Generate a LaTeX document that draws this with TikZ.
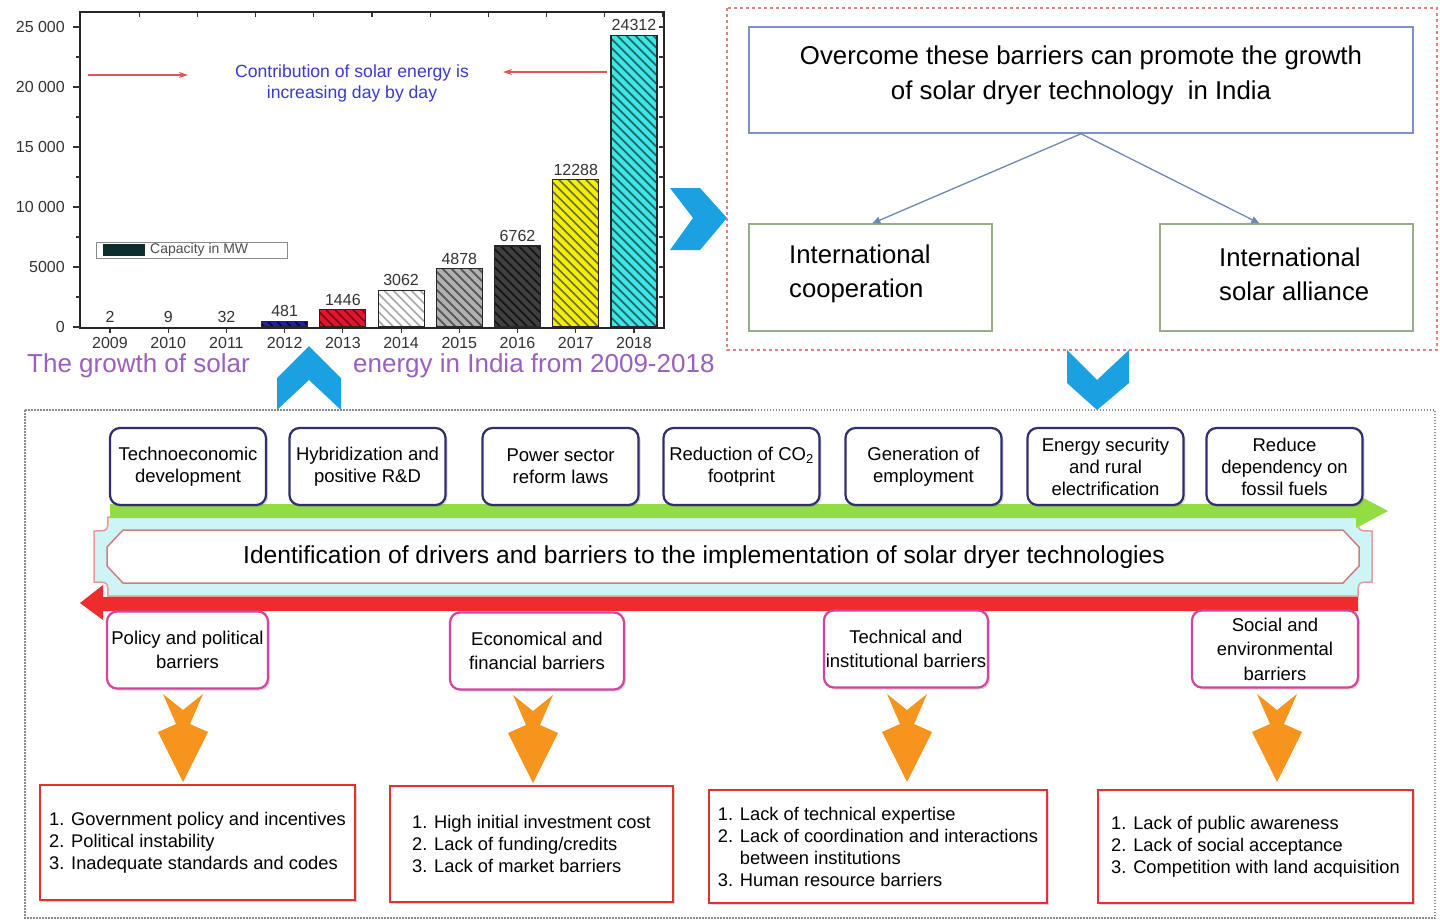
\documentclass[tikz,border=0pt]{standalone}
\usepackage{fontspec}
\setmainfont{Liberation Sans}
\usetikzlibrary{shadows,arrows.meta,calc}
\definecolor{chev}{HTML}{1BA1E2}
\definecolor{navyb}{HTML}{2E2E70}
\definecolor{magb}{HTML}{D2459E}
\definecolor{redb}{HTML}{E4312F}
\definecolor{orangeA}{HTML}{F7941D}
\definecolor{greenA}{HTML}{92DD44}
\definecolor{redA}{HTML}{EF2B2B}
\definecolor{cyanband}{HTML}{CFF4F6}
\definecolor{bandline}{HTML}{E79A9A}
\definecolor{innerline}{HTML}{CF7E7E}
\definecolor{capcol}{HTML}{9B5FC0}
\definecolor{annblue}{HTML}{3A3ACB}
\definecolor{topbox}{HTML}{8090C8}
\definecolor{grbox}{HTML}{98AE88}
\definecolor{conn}{HTML}{6E88B8}
\definecolor{chartred}{HTML}{E05555}
\definecolor{b12}{HTML}{2020A0}
\definecolor{b12l}{HTML}{000050}
\definecolor{b13}{HTML}{E01530}
\definecolor{b13l}{HTML}{800010}
\definecolor{b14l}{HTML}{A8A8A8}
\definecolor{b15}{HTML}{B0B0B0}
\definecolor{b15l}{HTML}{555555}
\definecolor{b16}{HTML}{404040}
\definecolor{b16l}{HTML}{151515}
\definecolor{b17}{HTML}{F2F000}
\definecolor{b17l}{HTML}{6A6A3A}
\definecolor{b18}{HTML}{3EE6E6}
\definecolor{b18l}{HTML}{206868}
\definecolor{legc}{HTML}{0E2E2E}
\definecolor{dotgray}{HTML}{8A8A8A}
\definecolor{dashred}{HTML}{E08080}
\begin{document}
\begin{tikzpicture}[x=1pt,y=-1pt,
  every node/.style={inner sep=0pt},
  drv/.style={draw=navyb, line width=2.2pt, rounded corners=10pt, fill=white,
    minimum width=156pt, minimum height=77pt, align=center,
    font=\fontsize{18.5}{22}\selectfont,
    drop shadow={opacity=0.3,shadow xshift=2pt,shadow yshift=-2pt}},
  barr/.style={draw=magb, line width=2.2pt, rounded corners=10pt, fill=white,
    minimum height=77pt, align=center, font=\fontsize{18.5}{24.5}\selectfont,
    drop shadow={opacity=0.3,shadow xshift=2pt,shadow yshift=-2pt}},
  lst/.style={draw=redb, line width=2.6pt, fill=white, align=left,
    font=\fontsize{18.3}{22}\selectfont,
    drop shadow={opacity=0.3,shadow xshift=2pt,shadow yshift=-2pt}},
  gbox/.style={draw=grbox, line width=1.3pt, minimum height=107pt},
  gtext/.style={align=left, font=\fontsize{25.7}{34}\selectfont, anchor=west},
  vlab/.style={font=\fontsize{16}{18}\selectfont, text=black!80},
  ylab/.style={font=\fontsize{16}{18}\selectfont, text=black!80},
  connarrow/.style={draw=conn, line width=1.3pt, -{Triangle[length=8pt,width=7pt]}},
  chartarrow/.style={draw=chartred, line width=1.4pt, -{Stealth[length=9pt,width=6pt]}},
  oarr/.pic={\fill[orangeA] (-20,0) -- (0,16) -- (20,0) -- (7,30) -- (25,38) -- (0,88) -- (-25,38) -- (-7,30) -- cycle;}
]
\useasboundingbox (0,0) rectangle (1440,922);
\fill[white] (0,0) rectangle (1440,922);

% ---------------- chart ----------------
\foreach \i/\v/\ty/\fc/\lc in {0/2/326.98/white/white,1/9/326.89/white/white,2/32/326.6/white/white,3/481/321.2/b12/b12l,4/1446/309.6/b13/b13l,5/3062/290.3/white/b14l,6/4878/268.5/b15/b15l,7/6762/245.9/b16/b16l,8/12288/179.5/b17/b17l,9/24312/35.3/b18/b18l}{
  \pgfmathsetmacro\cx{110+58.22*\i}
  \ifnum\i>2
    \fill[\fc] ({\cx-23},327) rectangle ({\cx+23},\ty);
    \begin{scope}
      \clip ({\cx-23},327) rectangle ({\cx+23},\ty);
      \foreach \t in {-300,-291,...,50}{
        \draw[\lc, line width=1.7pt] ({\cx-23+\t},\ty) -- ++(340,340);
      }
    \end{scope}
    \draw[line width=1.2pt, black!85] ({\cx-23},327) rectangle ({\cx+23},\ty);
  \fi
  \node[vlab] at (\cx,{\ty-10}) {\v};
  \node[ylab] at (\cx,343) {\the\numexpr2009+\i\relax};
  \draw[line width=1.2pt, black!80] (\cx,328) -- (\cx,333);
  \draw[line width=1.2pt, black!80] ({\cx+29.11},12) -- ({\cx+29.11},17);
}
\draw[line width=1.5pt, black!85] (80,12) rectangle (664,328);
\foreach \k/\t in {0/0,1/5000,2/10 000,3/15 000,4/20 000,5/25 000}{
  \draw[line width=1.2pt, black!80] (80,{327-60*\k}) -- (73,{327-60*\k});
  \node[ylab, anchor=east] at (65,{327-60*\k}) {\t};
}
\foreach \k in {0,...,4}{
  \draw[line width=1.2pt, black!80] (80,{297-60*\k}) -- (76,{297-60*\k});
}
\foreach \k in {1,...,10}{
  \draw[line width=1.2pt, black!80] (664,{327-30*\k}) -- (659,{327-30*\k});
}
% legend
\draw[black!45, line width=0.8pt] (96,242) rectangle (287,258);
\fill[legc] (103,244) rectangle (145,256);
\node[anchor=west, font=\fontsize{14}{16}\selectfont, text=black!70] (leg) at (150,250) {Capacity in MW};
% annotation
\node[align=center, font=\fontsize{17.6}{21}\selectfont, text=annblue] (ann) at (352,83) {Contribution of solar energy is\\increasing day by day};
\coordinate (a1s) at (88,75); \coordinate (a1e) at (188,75);
\coordinate (a2s) at (607,72); \coordinate (a2e) at (503,72);
\draw[chartarrow] (a1s) -- (a1e);
\draw[chartarrow] (a2s) -- (a2e);
% caption
\node[anchor=west, font=\fontsize{26}{30}\selectfont, text=capcol] (cap1) at (27,366) {The growth of solar};
\node[anchor=west, font=\fontsize{26}{30}\selectfont, text=capcol] (cap2) at (353,366) {energy in India from 2009-2018};

% ---------------- chevrons ----------------
\fill[chev] (277,410) -- (277,378) -- (309,346) -- (341,378) -- (341,410) -- (309,380) -- cycle;
\fill[chev] (670,188) -- (700,188) -- (727,218) -- (700,250) -- (670,250) -- (693,218) -- cycle;
\fill[chev] (1067,350) -- (1097,380) -- (1129,350) -- (1129,383) -- (1097,410) -- (1067,383) -- cycle;

% ---------------- top right panel ----------------
\draw[dashred, line width=1.2pt, dash pattern=on 3pt off 3pt] (727,8) rectangle (1437,350);
\node[draw=topbox, line width=1.5pt, minimum width=664pt, minimum height=106pt] (ov) at (1081,80) {};
\node[align=center, font=\fontsize{25.8}{35}\selectfont] (ovt) at (1081,75) {Overcome these barriers can promote the growth\\of solar dryer technology\ \ in India};
\node[gbox, minimum width=243pt] (ic) at (870.5,277.5) {};
\node[gtext] (ict) at (789,274) {International\\cooperation};
\node[gbox, minimum width=253pt] (isa) at (1286.5,277.5) {};
\node[gtext] (isat) at (1219,274) {International\\solar alliance};
\draw[connarrow] (ov.south) -- ($(ic.north west)+(124,0)$);
\draw[connarrow] (ov.south) -- ($(isa.north west)+(100,0)$);

% ---------------- lower panel ----------------
\draw[dotgray, line width=1.2pt, dash pattern=on 1.5pt off 1.5pt] (25,410) rectangle (1435,918);

% central band
\filldraw[fill=cyanband, draw=bandline, line width=1.5pt]
 (108,517) -- (1358,517) .. controls (1358,531) .. (1372,531) -- (1372,582)
 .. controls (1358,582) .. (1358,596) -- (108,596) .. controls (108,582) .. (94,582)
 -- (94,531) .. controls (108,531) .. (108,517) -- cycle;
\filldraw[fill=white, draw=innerline, line width=1.5pt]
 (123,530) -- (1343,530) -- (1359,547) -- (1359,566) -- (1343,583) -- (123,583) -- (107,566) -- (107,547) -- cycle;
\node[font=\fontsize{24.6}{28}\selectfont] (idn) at (704,557) {Identification of drivers and barriers to the implementation of solar dryer technologies};

% green and red arrows
\fill[greenA] (110,504) -- (1356,504) -- (1356,494) -- (1388,511) -- (1356,528) -- (1356,518) -- (110,518) -- cycle;
\fill[redA] (1358,597) -- (103,597) -- (103,585) -- (80,603) -- (103,620) -- (103,611) -- (1358,611) -- cycle;

% drivers
\node[drv] (d1) at (188,466.5) {Technoeconomic\\development};
\node[drv] (d2) at (367.5,466.5) {Hybridization and\\positive R\&D};
\node[drv] (d3) at (560.5,466.5) {Power sector\\reform laws};
\node[drv] (d4) at (741.5,466.5) {Reduction of CO\textsubscript{2}\\footprint};
\node[drv] (d5) at (923.5,466.5) {Generation of\\employment};
\node[drv] (d6) at (1105.5,466.5) {Energy security\\and rural\\electrification};
\node[drv] (d7) at (1284.5,466.5) {Reduce\\dependency on\\fossil fuels};

% barriers
\node[barr, minimum width=161pt] (b1) at (187.5,650) {Policy and political\\barriers};
\node[barr, minimum width=174pt] (b2) at (537,651) {Economical and\\financial barriers};
\node[barr, minimum width=164pt] (b3) at (906,649) {Technical and\\institutional barriers};
\node[barr, minimum width=166pt] (b4) at (1275,649) {Social and\\environmental\\barriers};

% orange arrows
\pic at (183,694) {oarr};
\pic at (533,695) {oarr};
\pic at (907,694) {oarr};
\pic at (1277,694) {oarr};

% lists
\node[lst, minimum width=315pt, minimum height=115pt] (l1) at (197.5,842.5) {1. Government policy and incentives\\2. Political instability\\3. Inadequate standards and codes};
\node[lst, minimum width=283pt, minimum height=116pt] (l2) at (531.5,844) {1. High initial investment cost\\2. Lack of funding/credits\\3. Lack of market barriers};
\node[lst, minimum width=338pt, minimum height=113pt] (l3) at (878,846.5) {1. Lack of technical expertise\\2. Lack of coordination and interactions\\\phantom{2. }between institutions\\3. Human resource barriers};
\node[lst, minimum width=315pt, minimum height=113pt] (l4) at (1255.5,846.5) {1. Lack of public awareness\\2. Lack of social acceptance\\3. Competition with land acquisition};
\end{tikzpicture}
\end{document}
